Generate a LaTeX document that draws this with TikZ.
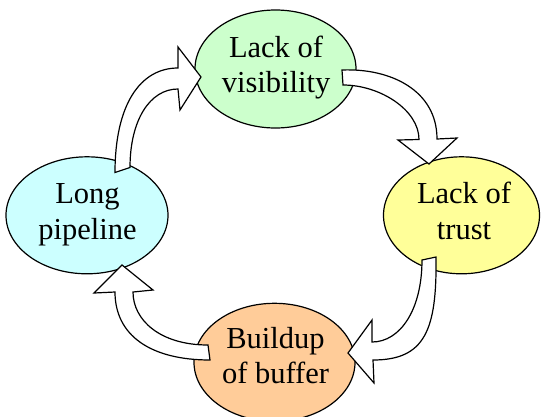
\documentclass[tikz,border=0pt]{standalone}
\usepackage{fontspec}
\setmainfont{Liberation Serif}
\usetikzlibrary{shapes.geometric}
\definecolor{cgreen}{HTML}{CCFFCC}
\definecolor{cyellow}{HTML}{FFFF99}
\definecolor{corange}{HTML}{FFCC99}
\definecolor{ccyan}{HTML}{CCFFFF}
\tikzset{
  ell/.style={ellipse, draw=black, line width=1.2pt, inner sep=0pt},
  lbl/.style={align=center, inner sep=0pt, font=\fontsize{30.5}{35.5}\selectfont},
  blockarrow/.style={draw=black, fill=white, line width=1.2pt, line join=miter}
}
\begin{document}
\begin{tikzpicture}[x=1pt, y=-1pt]
\useasboundingbox (0,0) rectangle (541,416);
\begin{scope}
\clip (0,0) rectangle (541,416);
% ellipses
\node[ell, fill=cgreen, minimum width=161pt, minimum height=118pt] (vis) at (275.5,69) {};
\node[ell, fill=cyellow, minimum width=156pt, minimum height=117pt] (trust) at (461.5,215.3) {};
\node[ell, fill=corange, minimum width=161pt, minimum height=118pt] (buf) at (274.5,362.3) {};
\node[ell, fill=ccyan, minimum width=162pt, minimum height=117pt] (pipe) at (87,215.3) {};
% labels
\node[lbl] (visT) at (276,67.3) {Lack of\\visibility};
\node[lbl] (trustT) at (464,210.8) {Lack of\\trust};
\node[lbl] (bufT) at (275.5,355.4) {Buildup\\of buffer};
\node[lbl] (pipeT) at (87.5,215) {Long\\pipeline};
% block arrows
\draw[blockarrow] (115,172.5) .. controls (115,105) and (140,68) .. (178,68)
  -- (178,47) -- (201,77) -- (180,110) -- (178,89)
  .. controls (150,89) and (130,120) .. (130,167.5) -- cycle;
\draw[blockarrow] (342,70) .. controls (390,68) and (437,90) .. (437,139)
  -- (457,138) -- (429,164) -- (398,140) -- (419,139.5)
  .. controls (419,110) and (380,85) .. (343,85) -- cycle;
\draw[blockarrow] (436,257) .. controls (437,330) and (425,360) .. (373,360)
  -- (374,383) -- (348,353) -- (372,320) -- (372,342)
  .. controls (400,342) and (422,310) .. (422,260) -- cycle;
\draw[blockarrow] (210,360) .. controls (150,360) and (115,335) .. (115,292)
  -- (94,293) -- (122,265) -- (153,290) -- (133,292)
  .. controls (133,320) and (160,345) .. (208,345) -- cycle;
\end{scope}
\end{tikzpicture}
\end{document}
